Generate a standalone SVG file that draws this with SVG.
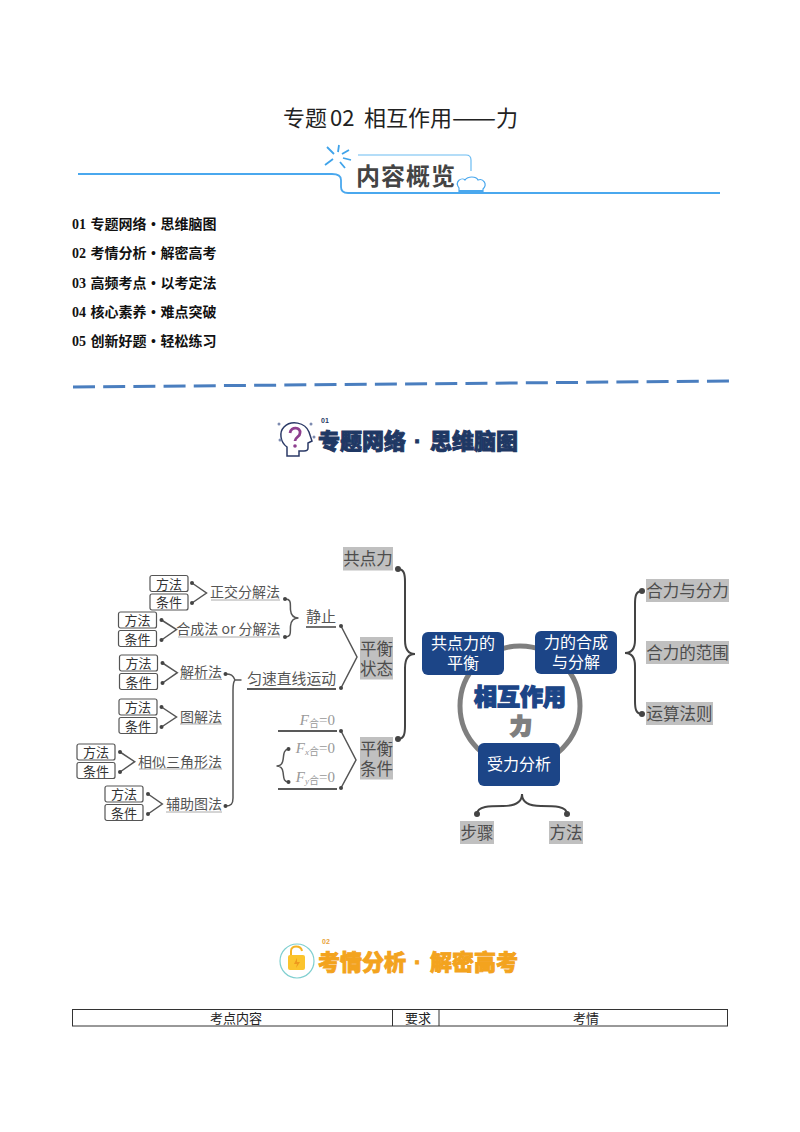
<svg xmlns="http://www.w3.org/2000/svg" width="800" height="1132" viewBox="0 0 800 1132">
<style>
text{font-family:"Liberation Sans","Noto Sans CJK SC",sans-serif}
.cjk{font-family:"Noto Sans CJK SC",sans-serif}
.toc{font-size:14px;font-weight:700;fill:#111;font-family:"Liberation Serif","Noto Sans CJK SC",serif;word-spacing:1px}
.mini{fill:#fff;stroke:#555;stroke-width:1.2}
.minit{font-size:13px;fill:#333;text-anchor:middle}
.lab{font-size:14px;fill:#555;text-anchor:end}
.ul{stroke:#aaa;stroke-width:1}
.bl{stroke:#222;stroke-width:1.3}
.grey{fill:#c0c0c0}
.gt{font-size:16.5px;fill:#4d4d4d;text-anchor:middle}
.blue{fill:#1c4587}
.bt{font-size:16px;fill:#fff;text-anchor:middle}
.con{fill:none;stroke:#555;stroke-width:1.5;stroke-linejoin:miter}
.br{fill:none;stroke:#444;stroke-width:2}
.d{fill:#444}
.f{font-family:"Liberation Serif",serif;font-size:15px;fill:#999;text-anchor:end}
.th{font-size:13px;fill:#222;text-anchor:middle}
.dot{font-family:"Liberation Sans",sans-serif}
</style>
<defs>
<g id="pair"><rect class="mini" x="0" y="0" width="38" height="16" rx="2"/><rect class="mini" x="0" y="18.500" width="38" height="16" rx="2"/><text class="minit cjk" x="19" y="13">方法</text><text class="minit cjk" x="19" y="31.500">条件</text></g>
</defs>

<g id="title"><text class="cjk" y="126" font-size="22" fill="#222"><tspan x="283">专题</tspan><tspan x="330">02</tspan><tspan x="364">相互作用</tspan><tspan x="452" textLength="44" lengthAdjust="spacingAndGlyphs">——</tspan><tspan x="496">力</tspan></text></g>

<g id="header-banner">
<path d="M78 174H332Q341 174 341 180V187Q341 193 348 193H720" fill="none" stroke="#4aa8ee" stroke-width="1.800"/>
<path d="M358 155H466Q471 155 471 160V171" fill="none" stroke="#6bbcf2" stroke-width="1.200"/>
<g stroke="#3fa3ea" stroke-width="1.800" fill="none"><path d="M338 152L339 145M342 154L349 150M343 158L351 160M340 162L345 168M334 154L327 147M333 159L325 165"/></g>
<text class="cjk" x="356" y="185" font-size="24" font-weight="700" fill="#444" letter-spacing="1">内容概览</text>
<path d="M459 188C454 181 462 177 465 180C468 176 476 176 478 180C483 178 488 184 483 189V192H459Z" fill="#fff" stroke="#4aa8ee" stroke-width="1.200"/>
<rect x="459" y="190" width="24" height="3" fill="#4aa8ee"/>
</g>

<g id="toc">
<text class="toc" x="72" y="229">01 专题网络 • 思维脑图</text>
<text class="toc" x="72" y="258">02 考情分析 • 解密高考</text>
<text class="toc" x="72" y="288">03 高频考点 • 以考定法</text>
<text class="toc" x="72" y="317">04 核心素养 • 难点突破</text>
<text class="toc" x="72" y="346">05 创新好题 • 轻松练习</text>
</g>
<path id="divider" d="M73 387L729 381" stroke="#4a7ebf" stroke-width="3" stroke-dasharray="22 8.190" fill="none"/>

<g id="heading-01">
<path d="M287 456V447C280 442 279 432 284 427C291 420 305 422 309 432L312 441L308 443V448Q308 451 304 451H299V456Z" fill="#fff" stroke="#2b3a67" stroke-width="1.500"/>
<path d="M290 433C291 426 301 427 300 433C300 437 295 437 295 441" fill="none" stroke="#8e3f8f" stroke-width="2.800"/>
<circle cx="295" cy="446" r="1.800" fill="#8e3f8f"/>
<g fill="#7d8bb0"><circle cx="279" cy="424" r="1.500"/><circle cx="311" cy="424" r="1.500"/><circle cx="280" cy="440" r="1.500"/><circle cx="314" cy="437" r="1.500"/></g>
<text x="321" y="423" font-size="7" font-weight="700" fill="#1f3864">01</text>
<text class="cjk" y="449" font-size="22" font-weight="900" fill="#1f3864" stroke="#1f3864" stroke-width=".9"><tspan x="318">专题网络</tspan><tspan class="dot" x="414">·</tspan><tspan x="430">思维脑图</tspan></text>
</g>

<g id="connectors">
<path class="con" d="M192 583L206.500 593L192 603"/>
<path class="con" d="M161.500 620L176.500 629.500L161.500 640"/>
<path class="con" d="M162.500 663L177.300 672.700L162.500 683"/>
<path class="con" d="M161.500 707L176.500 717L161.500 727"/>
<path class="con" d="M120 752L134.700 761.700L120 772"/>
<path class="con" d="M148 794L162.300 804L148 814"/>
<path class="con" d="M285 599C292 599 290 604 290.500 610C291 616 294 618 298.500 618C294 618 291 620 290.500 626C290 632 292 637 285 637"/>
<path class="con" d="M225.500 674C231 674 233 675 235 680H241.500H235C233 682 233 686 233 690V798C233 804 231 806 225.500 806"/>
<path class="con" d="M341 626L357 657L341 688" stroke-width="1.700"/>
<path class="con" d="M341 731L356 760L341 788" stroke-width="1.700"/>
<path class="con" d="M288.500 749C283 750 284 755 283 760C282.500 764 280 766 276.500 766C280 766 282.500 768 283 772C284 778 283 781 288.500 782"/>
<path class="br" d="M398 569C404 569 405 574 405 582V640C405 650 409 654 415 654C409 654 405 658 405 668V726C405 734 404 739 398 739"/>
<path class="br" d="M642 591C636 591 635 596 635 604V640C635 649 631 653 625 653C631 653 635 657 635 666V701C635 709 636 714 642 714"/>
<path class="br" d="M477 814C477 806 490 806 503 806C515 806 522 803 522 794C522 803 529 806 541 806C554 806 567 806 567 814"/>
<g class="d">
<circle cx="192" cy="583" r="2"/><circle cx="192" cy="603" r="2"/><circle cx="161.500" cy="620" r="2"/><circle cx="161.500" cy="640" r="2"/><circle cx="162.500" cy="663" r="2"/><circle cx="162.500" cy="683" r="2"/><circle cx="161.500" cy="707" r="2"/><circle cx="161.500" cy="727" r="2"/><circle cx="120" cy="752" r="2"/><circle cx="120" cy="772" r="2"/><circle cx="148" cy="794" r="2"/><circle cx="148" cy="814" r="2"/>
<circle cx="285" cy="599" r="2"/><circle cx="285" cy="637" r="2"/><circle cx="225.500" cy="674" r="2"/><circle cx="225.500" cy="806" r="2"/><circle cx="341" cy="626" r="2"/><circle cx="341" cy="688" r="2"/><circle cx="341" cy="731" r="2"/><circle cx="341" cy="788" r="2"/><circle cx="288.500" cy="749" r="2"/><circle cx="288.500" cy="782" r="2"/>
<circle cx="398" cy="569" r="3"/><circle cx="398" cy="739" r="3"/><circle cx="642" cy="591" r="3"/><circle cx="642" cy="714" r="3"/><circle cx="477" cy="814" r="3"/><circle cx="567" cy="814" r="3"/>
</g>
</g>

<g id="pair-zhengjiao"><use href="#pair" x="150" y="575.500"/></g>
<g id="pair-hecheng"><use href="#pair" x="118.500" y="612"/></g>
<g id="pair-jiexi"><use href="#pair" x="119.500" y="655"/></g>
<g id="pair-tujie"><use href="#pair" x="119" y="699"/></g>
<g id="pair-xiangsi"><use href="#pair" x="77" y="744"/></g>
<g id="pair-fuzhu"><use href="#pair" x="105" y="786"/></g>

<g id="n-zhengjiao"><text class="lab cjk" x="280" y="597">正交分解法</text><line class="ul" x1="211" y1="600" x2="280" y2="600"/></g>
<g id="n-hecheng"><text class="lab cjk" x="280.500" y="634">合成法 or 分解法</text><line class="ul" x1="178" y1="637" x2="280" y2="637"/></g>
<g id="n-jingzhi"><text class="lab cjk" x="336" y="622" style="font-size:15px">静止</text><line class="bl" x1="306" y1="627" x2="336" y2="627"/></g>
<g id="n-yunsu"><text class="lab cjk" x="336" y="684" style="font-size:14.800px">匀速直线运动</text><line class="bl" x1="247" y1="689" x2="336" y2="689"/></g>
<g id="n-jiexi"><text class="lab cjk" x="222" y="677">解析法</text><line class="ul" x1="180" y1="679.500" x2="222" y2="679.500"/></g>
<g id="n-tujie"><text class="lab cjk" x="222" y="722">图解法</text><line class="ul" x1="180" y1="724" x2="222" y2="724"/></g>
<g id="n-xiangsi"><text class="lab cjk" x="222" y="767">相似三角形法</text><line class="ul" x1="139" y1="769" x2="222" y2="769"/></g>
<g id="n-fuzhu"><text class="lab cjk" x="222" y="809">辅助图法</text><line class="ul" x1="166" y1="812" x2="222" y2="812"/></g>

<g id="n-fhe"><text class="f" x="335" y="725"><tspan font-style="italic">F</tspan><tspan class="cjk" font-size="10" dy="2">合</tspan><tspan dy="-2">=0</tspan></text><line class="bl" x1="278" y1="731" x2="337" y2="731"/></g>
<g id="n-fxhe"><text class="f" x="335" y="753"><tspan font-style="italic">F</tspan><tspan font-size="9" font-style="italic" dy="2">x</tspan><tspan class="cjk" font-size="10">合</tspan><tspan dy="-2">=0</tspan></text></g>
<g id="n-fyhe"><text class="f" x="335" y="782"><tspan font-style="italic">F</tspan><tspan font-size="9" font-style="italic" dy="2">y</tspan><tspan class="cjk" font-size="10">合</tspan><tspan dy="-2">=0</tspan></text><line class="bl" x1="278" y1="789" x2="337" y2="789"/></g>

<g id="n-gongdianli"><rect class="grey" x="343" y="547" width="50" height="23.500"/><text class="gt cjk" x="368" y="564.500">共点力</text></g>
<g id="n-pingheng-zt"><rect class="grey" x="360" y="637" width="33" height="42.500"/><text class="gt cjk" x="376.500" y="655">平衡</text><text class="gt cjk" x="376.500" y="675">状态</text></g>
<g id="n-pingheng-tj"><rect class="grey" x="360" y="737" width="33" height="42.500"/><text class="gt cjk" x="376.500" y="755">平衡</text><text class="gt cjk" x="376.500" y="775">条件</text></g>

<g id="n-center">
<circle cx="520" cy="706" r="60" fill="#fff" stroke="#7f7f7f" stroke-width="5"/>
<text class="cjk" x="520" y="705" font-size="23" font-weight="900" fill="#1c4587" stroke="#1c4587" stroke-width="1.300" text-anchor="middle">相互作用</text>
<text class="cjk" x="521" y="734" font-size="22" font-weight="900" fill="#7f7f7f" stroke="#7f7f7f" stroke-width="1.800" text-anchor="middle">力</text>
</g>
<g id="n-gongdian-blue"><rect class="blue" x="422" y="632" width="82" height="43" rx="6"/><text class="bt cjk" x="463" y="649">共点力的</text><text class="bt cjk" x="463" y="669">平衡</text></g>
<g id="n-hecheng-blue"><rect class="blue" x="535" y="631" width="82" height="43" rx="6"/><text class="bt cjk" x="576" y="648">力的合成</text><text class="bt cjk" x="576" y="668">与分解</text></g>
<g id="n-shouli"><rect class="blue" x="478" y="743" width="82" height="43" rx="6"/><text class="bt cjk" x="519" y="769.500">受力分析</text></g>

<g id="n-heli"><rect class="grey" x="646" y="579" width="83" height="23"/><text class="gt cjk" x="687.500" y="597">合力与分力</text></g>
<g id="n-fanwei"><rect class="grey" x="646" y="641" width="83" height="23"/><text class="gt cjk" x="687.500" y="659">合力的范围</text></g>
<g id="n-yunsuan"><rect class="grey" x="646" y="702" width="67" height="23"/><text class="gt cjk" x="679.500" y="720">运算法则</text></g>
<g id="n-buzhou"><rect class="grey" x="460" y="821" width="34" height="23"/><text class="gt cjk" x="477" y="839">步骤</text></g>
<g id="n-fangfa"><rect class="grey" x="549" y="821" width="34" height="23"/><text class="gt cjk" x="566" y="839">方法</text></g>

<g id="heading-02">
<circle cx="297" cy="961" r="17" fill="#fff" stroke="#7fcfd0" stroke-width="1.200"/>
<path d="M291 955V951C291 945 301 945 302 951" fill="none" stroke="#f5b324" stroke-width="2"/>
<rect x="288" y="955" width="17" height="15" rx="2" fill="#fbc42d"/>
<path d="M297 958L294 964H297L296 968L300 962H297Z" fill="#ee9a1e"/>
<text x="322" y="944" font-size="7" font-weight="700" fill="#e8a43a">02</text>
<text class="cjk" y="970" font-size="22" font-weight="900" fill="#f3a31e" stroke="#f3a31e" stroke-width=".9"><tspan x="318">考情分析</tspan><tspan class="dot" x="414">·</tspan><tspan x="430">解密高考</tspan></text>
</g>

<g id="table">
<rect x="72.500" y="1009.500" width="655" height="16.500" fill="#fff" stroke="#333" stroke-width="1"/>
<line x1="392.500" y1="1009.500" x2="392.500" y2="1026" stroke="#333"/>
<line x1="439" y1="1009.500" x2="439" y2="1026" stroke="#333"/>
<text class="th cjk" x="236" y="1023">考点内容</text>
<text class="th cjk" x="418" y="1023">要求</text>
<text class="th cjk" x="586" y="1023">考情</text>
</g>
</svg>
